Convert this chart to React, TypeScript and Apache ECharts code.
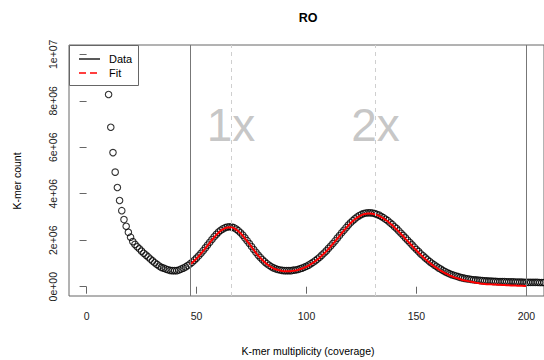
import React, { useEffect, useRef } from "react";
import * as echarts from "echarts";

const chartTitle = "RO";
const xAxisTitle = "K-mer multiplicity (coverage)";
const yAxisTitle = "K-mer count";
const xTicks = [0, 50, 100, 150, 200];
const yTicks = [0, 2, 4, 6, 8, 10]; // millions
const yTickLabels = ["0e+00", "2e+06", "4e+06", "6e+06", "8e+06", "1e+07"];

// observed k-mer counts (millions) for multiplicity 10..210
const dataStart = 10;
const dataCounts = [
  8.27, 6.86, 5.77, 4.93, 4.27, 3.71, 3.27, 2.89, 2.6, 2.34,
  2.13, 1.94, 1.82, 1.72, 1.63, 1.53, 1.44, 1.36, 1.28, 1.19,
  1.11, 1.03, 0.96, 0.89, 0.83, 0.8, 0.76, 0.73, 0.7, 0.69,
  0.69, 0.69, 0.72, 0.76, 0.8, 0.85, 0.91, 0.98, 1.05, 1.14,
  1.23, 1.33, 1.44, 1.55, 1.67, 1.79, 1.91, 2.03, 2.15, 2.25,
  2.35, 2.43, 2.49, 2.54, 2.57, 2.58, 2.57, 2.54, 2.48, 2.41,
  2.32, 2.22, 2.1, 1.98, 1.86, 1.73, 1.6, 1.48, 1.36, 1.26,
  1.16, 1.07, 0.99, 0.92, 0.86, 0.81, 0.77, 0.74, 0.72, 0.7,
  0.69, 0.69, 0.69, 0.69, 0.71, 0.72, 0.74, 0.77, 0.8, 0.84,
  0.88, 0.93, 0.99, 1.05, 1.12, 1.19, 1.27, 1.36, 1.45, 1.54,
  1.65, 1.75, 1.86, 1.97, 2.09, 2.2, 2.32, 2.43, 2.54, 2.65,
  2.75, 2.84, 2.92, 3.0, 3.06, 3.11, 3.15, 3.17, 3.18, 3.18,
  3.17, 3.15, 3.11, 3.08, 3.02, 2.97, 2.9, 2.84, 2.75, 2.68,
  2.58, 2.5, 2.4, 2.3, 2.2, 2.1, 2.0, 1.9, 1.8, 1.7,
  1.6, 1.51, 1.41, 1.33, 1.24, 1.16, 1.08, 1.01, 0.94, 0.88,
  0.81, 0.76, 0.7, 0.65, 0.6, 0.56, 0.52, 0.49, 0.46, 0.43,
  0.4, 0.38, 0.36, 0.34, 0.33, 0.31, 0.3, 0.29, 0.28, 0.27,
  0.26, 0.25, 0.25, 0.24, 0.24, 0.23, 0.23, 0.22, 0.22, 0.22,
  0.22, 0.21, 0.21, 0.21, 0.21, 0.2, 0.2, 0.2, 0.2, 0.19,
  0.19, 0.19, 0.19, 0.19, 0.19, 0.19, 0.18, 0.18, 0.18, 0.18, 0.18,
];

// model fit (millions) for multiplicity 47..200
const fitStart = 47;
const fitCounts = [
  0.96, 1.03, 1.12,
  1.21, 1.31, 1.42, 1.53, 1.65, 1.77, 1.89, 2.01, 2.12, 2.23,
  2.32, 2.41, 2.47, 2.52, 2.55, 2.56, 2.55, 2.52, 2.46, 2.39,
  2.3, 2.2, 2.08, 1.96, 1.84, 1.71, 1.58, 1.46, 1.34, 1.24,
  1.14, 1.05, 0.97, 0.9, 0.84, 0.79, 0.75, 0.72, 0.7, 0.68,
  0.67, 0.67, 0.67, 0.67, 0.69, 0.7, 0.72, 0.75, 0.78, 0.82,
  0.86, 0.91, 0.97, 1.03, 1.1, 1.17, 1.25, 1.34, 1.43, 1.52,
  1.62, 1.73, 1.84, 1.95, 2.07, 2.18, 2.3, 2.41, 2.52, 2.63,
  2.73, 2.82, 2.9, 2.97, 3.03, 3.08, 3.12, 3.14, 3.15, 3.15,
  3.14, 3.12, 3.08, 3.05, 2.99, 2.94, 2.87, 2.81, 2.72, 2.65,
  2.55, 2.46, 2.37, 2.26, 2.17, 2.06, 1.96, 1.86, 1.76, 1.66,
  1.56, 1.46, 1.37, 1.28, 1.19, 1.11, 1.03, 0.95, 0.88, 0.82,
  0.75, 0.69, 0.64, 0.58, 0.54, 0.49, 0.45, 0.41, 0.38, 0.35,
  0.32, 0.29, 0.27, 0.25, 0.23, 0.21, 0.19, 0.17, 0.16, 0.14,
  0.13, 0.12, 0.11, 0.11, 0.1, 0.09, 0.09, 0.08, 0.08, 0.07,
  0.07, 0.06, 0.06, 0.05, 0.05, 0.05, 0.04, 0.04, 0.04, 0.03, 0.03,
];

const rangeLines = [47, 200];
const peakLines = [65.7, 131.4];
const peakNames = ["1x", "2x"];
const peakLabelLevel = 6.95;

const FONT = "'Liberation Sans', Arial, Helvetica, sans-serif";

export default function App() {
  const ref = useRef<HTMLDivElement>(null);

  useEffect(() => {
    if (!ref.current) return;
    const chart = echarts.init(ref.current, null, { renderer: "svg" });

    const dataPts = dataCounts.map((v, i) => [dataStart + i, v]);
    const fitPts = fitCounts.map((v, i) => [fitStart + i, v]);
    const peakPts = peakLines.map((x, i) => ({ value: [x, peakLabelLevel], name: peakNames[i] }));

    const option: any = {
      animation: false,
      backgroundColor: "#fff",
      textStyle: { fontFamily: FONT },
      grid: {
        left: 69,
        top: 45,
        width: 479,
        height: 251,
        show: true,
        borderColor: "#666",
        borderWidth: 1,
        backgroundColor: "transparent",
      },
      xAxis: {
        type: "value",
        min: -8,
        max: 208,
        axisLine: { show: false },
        splitLine: { show: false },
        axisTick: {
          show: true,
          customValues: xTicks,
          length: 7,
          lineStyle: { color: "#666", width: 1 },
        },
        axisLabel: {
          show: true,
          customValues: xTicks,
          margin: 14,
          fontSize: 10.5,
          color: "#222",
          fontFamily: FONT,
        },
      },
      yAxis: {
        type: "value",
        min: -0.4,
        max: 10.4,
        axisLine: { show: false },
        splitLine: { show: false },
        axisTick: {
          show: true,
          customValues: yTicks,
          length: 7,
          lineStyle: { color: "#666", width: 1 },
        },
        axisLabel: {
          show: true,
          customValues: yTicks,
          rotate: 90,
          margin: 11,
          fontSize: 10.5,
          color: "#222",
          fontFamily: FONT,
          formatter: (v: number) => {
            const i = yTicks.indexOf(v);
            return i >= 0 ? yTickLabels[i] : "";
          },
        },
      },
      series: [
        {
          name: "Data",
          type: "scatter",
          data: dataPts,
          symbol: "circle",
          symbolSize: 6.5,
          clip: true,
          itemStyle: { color: "rgba(0,0,0,0)", borderColor: "#000", borderWidth: 1.1 },
          z: 2,
          markLine: {
            silent: true,
            symbol: ["none", "none"],
            label: { show: false },
            data: [
              ...rangeLines.map((x) => ({ xAxis: x, lineStyle: { color: "#777", width: 1, type: "solid" } })),
              ...peakLines.map((x) => ({ xAxis: x, lineStyle: { color: "#cfcfcf", width: 1, type: [4, 4] } })),
            ],
          },
        },
        {
          name: "Fit",
          type: "line",
          data: fitPts,
          showSymbol: false,
          clip: true,
          lineStyle: { color: "#ff0000", width: 2 },
          itemStyle: { color: "#ff0000" },
          z: 3,
        },
        {
          name: "peaks",
          type: "scatter",
          data: peakPts,
          symbolSize: 0,
          silent: true,
          z: 1,
          label: {
            show: true,
            position: "inside",
            formatter: (p: any) => p.name,
            fontSize: 46,
            color: "#b8b8b8",
            fontFamily: FONT,
          },
        },
      ],
      graphic: [
        {
          type: "text",
          x: 308,
          y: 18,
          style: { text: chartTitle, fontSize: 12.5, fontWeight: "bold", fontFamily: FONT, fill: "#000", textAlign: "center", textVerticalAlign: "middle" },
        },
        {
          type: "text",
          x: 308,
          y: 351,
          style: { text: xAxisTitle, fontSize: 10.5, fontFamily: FONT, fill: "#000", textAlign: "center", textVerticalAlign: "middle" },
        },
        {
          type: "text",
          x: 17,
          y: 181,
          rotation: Math.PI / 2,
          style: { text: yAxisTitle, fontSize: 10.5, fontFamily: FONT, fill: "#000", textAlign: "center", textVerticalAlign: "middle" },
        },
        {
          type: "group",
          z: 100,
          children: [
            {
              type: "rect",
              shape: { x: 69.5, y: 45.5, width: 69, height: 40 },
              style: { fill: "#fff", stroke: "#666", lineWidth: 1 },
            },
            {
              type: "line",
              shape: { x1: 79, y1: 59, x2: 100, y2: 59 },
              style: { stroke: "#222", lineWidth: 1.5 },
            },
            {
              type: "text",
              x: 109,
              y: 59,
              style: { text: "Data", fontSize: 11, fontFamily: FONT, fill: "#000", textVerticalAlign: "middle" },
            },
            {
              type: "line",
              shape: { x1: 79, y1: 73, x2: 100, y2: 73 },
              style: { stroke: "#ff0000", lineWidth: 1.5, lineDash: [7, 4] },
            },
            {
              type: "text",
              x: 109,
              y: 73,
              style: { text: "Fit", fontSize: 11, fontFamily: FONT, fill: "#000", textVerticalAlign: "middle" },
            },
          ],
        },
      ],
    };

    chart.setOption(option);
    return () => chart.dispose();
  }, []);

  return (
    <div
      ref={ref}
      style={{ position: "absolute", left: 0, top: 0, width: 544, height: 360, overflow: "hidden", background: "#fff" }}
    />
  );
}
